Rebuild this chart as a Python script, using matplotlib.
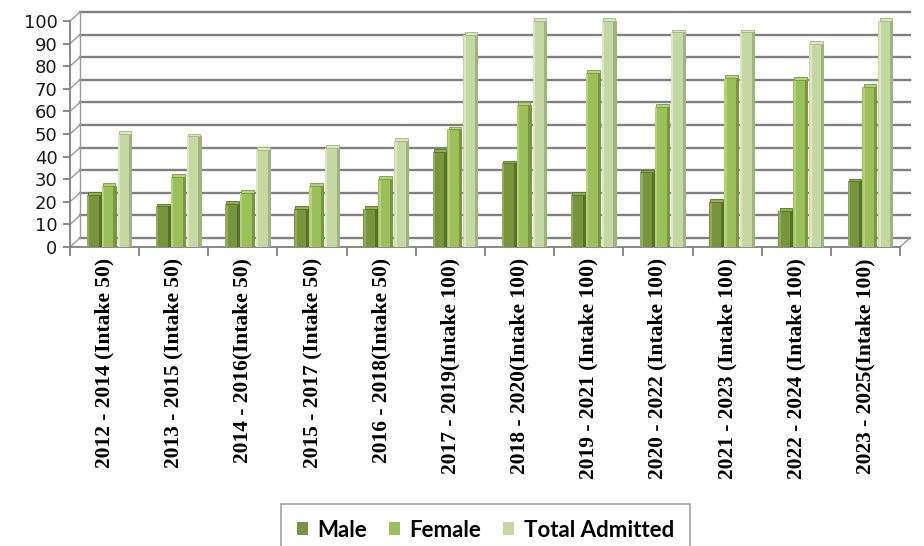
import matplotlib
matplotlib.use("Agg")
import matplotlib.pyplot as plt
import matplotlib.transforms as mtransforms
import numpy as np

# data
batches = [
    "2012 - 2014 (Intake 50)",
    "2013 - 2015 (Intake 50)",
    "2014 - 2016(Intake 50)",
    "2015 - 2017 (Intake 50)",
    "2016 - 2018(Intake 50)",
    "2017 - 2019(Intake 100)",
    "2018 - 2020(Intake 100)",
    "2019 - 2021 (Intake 100)",
    "2020 - 2022 (Intake 100)",
    "2021 - 2023 (Intake 100)",
    "2022 - 2024 (Intake 100)",
    "2023 - 2025(Intake 100)",
]
male = [23, 18, 19, 17, 17, 42, 37, 23, 33, 20, 16, 29]
female = [27, 31, 24, 27, 30, 52, 63, 77, 62, 75, 74, 71]
total = [50, 49, 43, 44, 47, 94, 100, 100, 95, 95, 90, 100]
series_names = ["Male", "Female", "Total Admitted"]
y_ticks = list(range(0, 101, 10))

W, H = 924, 546
fig = plt.figure(figsize=(W / 100, H / 100), dpi=100)
fig.patch.set_facecolor("white")

# front plane of the pseudo-3D plot area (pixels from the reference)
left, right, bottom, top = 70, 900, 247, 21
ax = fig.add_axes([left / W, 1 - bottom / H, (right - left) / W, (bottom - top) / H])
ax.set_xlim(-0.5, len(batches) - 0.5)
ax.set_ylim(0, 100)
ax.patch.set_alpha(0)
for s in ax.spines.values():
    s.set_visible(False)

grid_col = "#808080"
# back wall shifted right and up
back = mtransforms.offset_copy(ax.transData, fig=fig, x=10, y=9, units="dots")
x0, x1 = -0.5, len(batches) - 0.5
for v in y_ticks:
    ax.plot([x0, x1], [v, v], color=grid_col, lw=1.7, transform=back,
            clip_on=False, zorder=1)
    # left wall connectors
    ax.annotate("", xy=(x0, v), xycoords=back, xytext=(x0, v), textcoords="data",
                arrowprops=dict(arrowstyle="-", color="#9a9a9a", lw=1.0,
                                shrinkA=0, shrinkB=0), zorder=1)
ax.plot([x0, x0], [0, 100], color="#9a9a9a", lw=1.0, transform=back,
        clip_on=False, zorder=1)
ax.annotate("", xy=(x1, 0), xycoords=back, xytext=(x1, 0), textcoords="data",
            arrowprops=dict(arrowstyle="-", color="#9a9a9a", lw=1.0,
                            shrinkA=0, shrinkB=0), zorder=1)

# front axis lines
ax.plot([x0, x1], [0, 0], color=grid_col, lw=1.3, clip_on=False, zorder=2)
ax.plot([x0, x0], [0, 100], color=grid_col, lw=1.3, clip_on=False, zorder=2)

face_cols = ["#77953c", "#9bbf59", "#c5d8a2"]
side_cols = ["#557226", "#78983c", "#a0b47e"]
top_cols = ["#8fae55", "#b4d27a", "#dbe8c6"]
offsets = [-0.15, 0.065, 0.295]
bar_w = 0.215
side_w = 0.045
cap_h = 1.2

x = np.arange(len(batches))
for vals, off, fc, sc, tc, name in zip([male, female, total], offsets, face_cols,
                                       side_cols, top_cols, series_names):
    ax.bar(x + off, vals, width=bar_w, color=fc, zorder=3, label=name)
    ax.bar(x + off + bar_w / 2 - side_w / 2, vals, width=side_w, color=sc, zorder=4)
    ax.bar(x + off - bar_w / 2 + 0.02, vals, width=0.03, color=tc, zorder=4)
    # rounded bevel on top
    ax.bar(x + off, cap_h, bottom=vals, width=bar_w * 0.85, color=tc,
           edgecolor=sc, linewidth=0.6, zorder=4, clip_on=False)

# ticks
ax.set_yticks(y_ticks)
ax.tick_params(axis="y", length=5, width=1.3, color=grid_col, pad=4,
               labelsize=13, labelcolor="#1a1a1a")
for t in ax.get_yticklabels():
    t.set_fontfamily("DejaVu Sans")

ax.set_xticks(np.arange(len(batches) + 1) - 0.5)
ax.set_xticklabels([])
ax.tick_params(axis="x", which="major", length=6.5, width=1.3, color=grid_col)
ax.set_xticks(x, minor=True)
ax.set_xticklabels(batches, minor=True, rotation=90, va="top", ha="center",
                   fontfamily="Liberation Serif", fontweight="bold", fontsize=15.5)
ax.tick_params(axis="x", which="minor", length=0, pad=8)

handles, labels = ax.get_legend_handles_labels()
leg = fig.legend(handles, labels, loc="upper left",
                 bbox_to_anchor=(281 / W, 1 - 504 / H), ncol=3, frameon=True,
                 fancybox=False, edgecolor="#8c8c8c", handlelength=0.5,
                 handleheight=0.5, handletextpad=0.45, columnspacing=0.95,
                 borderpad=0.7, borderaxespad=0,
                 prop={"family": "Lato", "weight": "bold", "size": 16})
leg.get_frame().set_linewidth(1.2)

fig.savefig("out.png", dpi=100)
